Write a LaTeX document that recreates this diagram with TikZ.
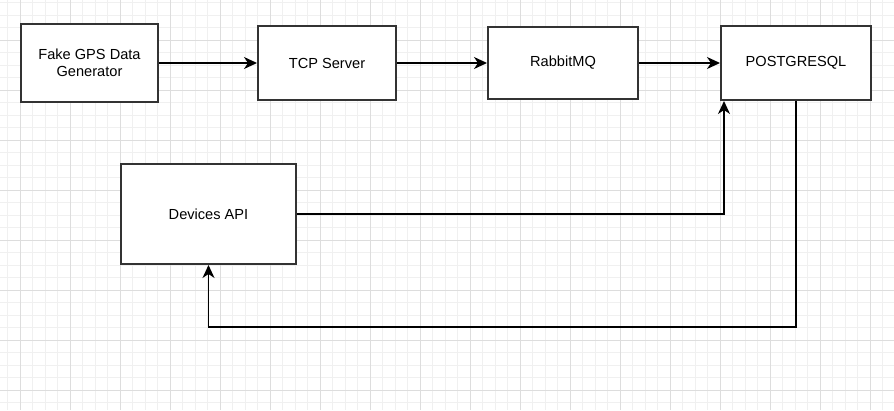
\documentclass[tikz,border=0pt]{standalone}
\usepackage{fontspec}
\setmainfont{Liberation Sans}
\usetikzlibrary{arrows.meta, calc, positioning}
\definecolor{gridmajor}{RGB}{221, 221, 221}
\definecolor{gridminor}{RGB}{240, 240, 240}
\definecolor{boxline}{RGB}{51, 51, 51}

\begin{document}
\begin{tikzpicture}[x=1pt, y=-1pt,
    block/.style={draw=boxline, line width=2pt, fill=white, inner sep=0pt, align=center,
      font=\fontsize{14.6}{17.5}\selectfont},
    link/.style={draw=black, line width=1.6pt, -{Stealth[length=13pt, width=12pt, inset=4pt]}}]
        \useasboundingbox (0,0) rectangle (894,410);
        \fill[white] (0,0) rectangle (894,410);

        % background grid
        \foreach \k in {-1,...,70} \draw[gridminor, line width=1pt] ({20+12.5*\k},0) -- ({20+12.5*\k},410);
        \foreach \k in {-3,...,29} \draw[gridminor, line width=1pt] (0,{40+12.5*\k}) -- (894,{40+12.5*\k});
        \foreach \k in {0,...,17} \draw[gridmajor, line width=1pt] ({20+50*\k},0) -- ({20+50*\k},410);
        \foreach \k in {-1,...,7} \draw[gridmajor, line width=1pt] (0,{40+50*\k}) -- (894,{40+50*\k});

        \node[block, minimum width=137pt, minimum height=78pt] (gps) at (89.5, 63) {Fake GPS Data\\Generator};
        \node[block, minimum width=138pt, minimum height=74pt] (tcp) at (327, 63) {TCP Server};
        \node[block, minimum width=150pt, minimum height=72pt] (rabbit) at (563, 63) {RabbitMQ};
        \node[block, minimum width=150pt, minimum height=74pt] (pg) at (796, 63) {POSTGRESQL};
        \node[block, minimum width=175pt, minimum height=100pt] (api) at (208.5, 214) {Devices API};
        \coordinate (back) at (500, 327);

        \draw[link] (gps.east) -- (tcp.west);
        \draw[link] (tcp.east) -- (rabbit.west);
        \draw[link] (rabbit.east) -- (pg.west);
        \draw[link] (api.east) -| ([xshift=4pt]pg.south west);
        \draw[link] (pg.south) |- (back) -| (api.south);

      \end{tikzpicture}
\end{document}
